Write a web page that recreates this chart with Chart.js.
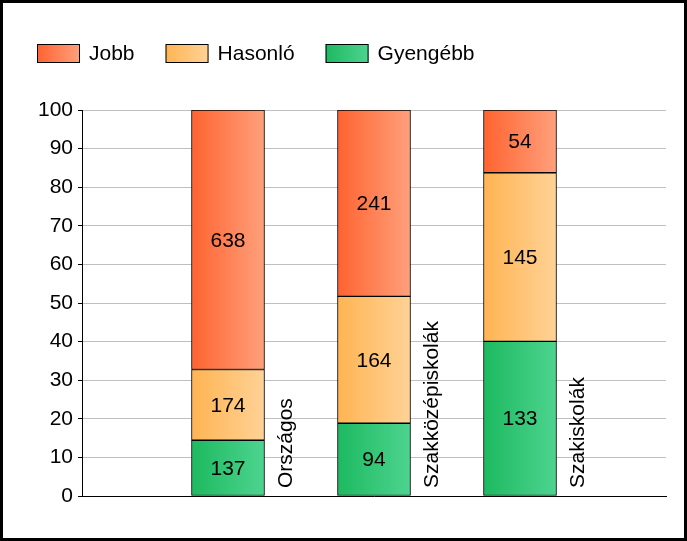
<!DOCTYPE html>
<html lang="hu">
<head>
    <meta charset="UTF-8">
    <title>Országos összehasonlítás</title>
    <script src="https://cdn.jsdelivr.net/npm/chart.js"></script>
    <style>
        * {
            margin: 0;
            padding: 0;
            box-sizing: border-box;
        }
        body {
            width: 687px;
            height: 541px;
            background: white;
            overflow: hidden;
        }
        .frame {
            width: 687px;
            height: 541px;
            border: 3px solid black;
            background: white;
        }
        canvas {
            display: block;
        }
    </style>
</head>
<body>
    <div class="frame">
        <canvas id="myChart" width="681" height="535"></canvas>
    </div>
    <script>
        // categories and counts
        const categories = ['Országos', 'Szakközépiskolák', 'Szakiskolák'];
        const gyengebb = [137, 94, 133];
        const hasonlo = [174, 164, 145];
        const jobb = [638, 241, 54];
        const yTicks = [0, 10, 20, 30, 40, 50, 60, 70, 80, 90, 100];

        const FONT = '21px "Liberation Sans", Arial, sans-serif';
        const BAR_W = 73;

        const totals = categories.map((c, i) => gyengebb[i] + hasonlo[i] + jobb[i]);
        function toPoints(arr) {
            return arr.map((v, i) => ({ x: i + 1, y: v / totals[i] * 100, count: v }));
        }

        function gradientFill(from, to) {
            return function(context) {
                const chart = context.chart;
                if (!chart.chartArea || !context.raw) return from;
                const xc = chart.scales.x.getPixelForValue(context.raw.x);
                const g = chart.ctx.createLinearGradient(xc - BAR_W / 2, 0, xc + BAR_W / 2, 0);
                g.addColorStop(0, from);
                g.addColorStop(1, to);
                return g;
            };
        }

        const series = [
            { label: 'Gyengébb', values: gyengebb, from: '#1db960', to: '#4dd48f' },
            { label: 'Hasonló', values: hasonlo, from: '#ffb452', to: '#ffd296' },
            { label: 'Jobb', values: jobb, from: '#ff6330', to: '#ffa07c' }
        ];

        const labelsPlugin = {
            id: 'labels',
            afterDatasetsDraw(chart) {
                const ctx = chart.ctx;
                ctx.save();
                ctx.font = FONT;
                ctx.fillStyle = '#000';
                ctx.textAlign = 'center';
                ctx.textBaseline = 'middle';
                chart.data.datasets.forEach((ds, di) => {
                    chart.getDatasetMeta(di).data.forEach((el, i) => {
                        ctx.fillText(String(ds.data[i].count), el.x, (el.y + el.base) / 2 + 1);
                    });
                });
                // rotated category names to the right of each bar
                const xs = chart.scales.x, bottom = chart.chartArea.bottom;
                categories.forEach((name, i) => {
                    ctx.save();
                    ctx.translate(xs.getPixelForValue(i + 1) + BAR_W / 2 + 22, bottom - 8);
                    ctx.rotate(-Math.PI / 2);
                    ctx.textAlign = 'left';
                    ctx.fillText(name, 0, 0);
                    ctx.restore();
                });
                // legend
                let x = 34;
                series.slice().reverse().forEach(s => {
                    const g = ctx.createLinearGradient(x, 0, x + 43, 0);
                    g.addColorStop(0, s.from);
                    g.addColorStop(1, s.to);
                    ctx.fillStyle = g;
                    ctx.fillRect(x, 41, 43, 19);
                    ctx.strokeStyle = '#000';
                    ctx.lineWidth = 1;
                    ctx.strokeRect(x + 0.5, 41.5, 42, 18);
                    ctx.fillStyle = '#000';
                    ctx.textAlign = 'left';
                    ctx.fillText(s.label, x + 52, 51);
                    x += 52 + ctx.measureText(s.label).width + 31;
                });
                ctx.restore();
            }
        };

        new Chart(document.getElementById('myChart'), {
            type: 'bar',
            data: {
                datasets: series.map(s => ({
                    label: s.label,
                    data: toPoints(s.values),
                    backgroundColor: gradientFill(s.from, s.to),
                    borderColor: '#000',
                    borderWidth: 1,
                    borderSkipped: false,
                    barThickness: BAR_W
                }))
            },
            options: {
                responsive: false,
                animation: false,
                layout: { padding: { top: 107, right: 18, bottom: 42, left: 0 } },
                plugins: {
                    legend: { display: false },
                    tooltip: { enabled: false }
                },
                scales: {
                    x: {
                        type: 'linear',
                        stacked: true,
                        offset: false,
                        min: 0,
                        max: 4,
                        ticks: { display: false },
                        grid: { display: false, drawTicks: false, offset: false },
                        border: { color: '#000', width: 1 }
                    },
                    y: {
                        stacked: true,
                        min: 0,
                        max: 100,
                        afterFit(scale) { scale.width = 79; },
                        afterBuildTicks(scale) { scale.ticks = yTicks.map(v => ({ value: v })); },
                        ticks: {
                            color: '#000',
                            font: { family: '"Liberation Sans", Arial, sans-serif', size: 21 },
                            padding: 5
                        },
                        grid: { color: '#c0c0c0', tickColor: '#000', tickLength: 4 },
                        border: { color: '#000', width: 1 }
                    }
                }
            },
            plugins: [labelsPlugin]
        });
    </script>
</body>
</html>
